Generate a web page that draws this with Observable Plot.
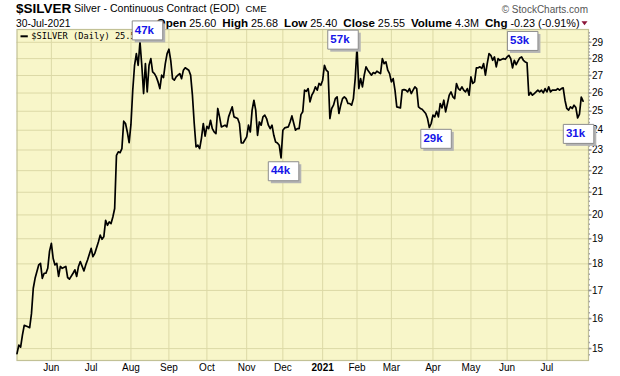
<!DOCTYPE html>
<html>
<head>
<meta charset="utf-8">
<script src="https://cdn.jsdelivr.net/npm/d3@7"></script>
<script src="https://cdn.jsdelivr.net/npm/@observablehq/plot@0.6"></script>
<style>
  html, body { margin: 0; padding: 0; background: white; }
  #chart { position: relative; width: 620px; height: 376px; }
</style>
</head>
<body>
<div id="chart"></div>
<script>
// ---- Data (trading-day index since 1-May-2020, daily close) ----
const days = [1,2,3,4,5,7,8,9,10,11,13,14,15,16,17,18,19,20,21,22,23,24,25,26,28,29,30,32,33,34,35,36,38,39,40,42,43,44,46,47,48,49,50,51,52,53,54,55,56,57,58,59,60,61,62,63,64,65,66,67,68,69,70,71,72,73,74,75,76,77,78,79,80,81,82,83,84,85,86,87,88,89,90,91,92,93,94,96,97,98,99,100,101,102,
103,104,105,106,107,108,109,110,111,112,113,114,116,117,118,119,120,121,123,124,125,126,128,129,130,131,132,133,134,135,136,137,138,139,140,141,142,143,144,145,146,147,148,149,151,152,153,155,156,157,158,159,160,161,162,163,164,165,166,167,168,169,170,171,172,173,174,175,176,177,178,179,180,181,182,183,184,185,186,187,188,189,190,191,192,193,194,195,197,198,199,200,202,203,204,205,206,207,
208,209,210,211,213,214,215,216,217,218,219,220,221,222,223,224,225,227,228,229,230,231,232,233,234,235,236,237,238,239,240,241,242,243,244,245,246,247,248,249,250,251,252,253,254,255,256,257,258,259,260,261,262,263,264,265,266,267,268,270,271,272,273,274,275,276,277,278,279,280,281,282,283,284,285,286,287,288,289,290,291,292,293,294,295,296,297,299,300,301,302,303,304,305,306,307,308,309,310,311,312,313,314];
const closes = [14.84,15.11,15.05,15.44,15.77,15.72,15.69,16.17,17.08,17.45,17.96,18.02,17.45,17.64,17.64,17.83,18.50,18.81,18.21,17.96,18.02,17.52,17.90,17.83,17.90,17.48,17.42,17.64,17.77,17.52,17.90,18.09,17.73,17.96,18.15,18.61,18.28,18.41,18.87,19.15,18.98,19.08,19.77,19.56,19.70,19.63,19.91,20.28,22.74,22.91,22.87,23.07,24.47,24.35,23.91,23.37,24.30,26.16,27.60,28.30,27.60,29.03,27.60,25.97,27.70,26.06,27.60,28.00,27.21,27.11,26.92,26.63,26.25,27.02,26.88,27.70,28.30,28.57,27.90,26.82,26.73,26.92,27.02,27.11,26.82,27.31,27.45,27.31,27.02,25.88,24.35,23.15,23.24,23.07,
23.60,24.35,23.70,24.20,24.08,24.52,24.08,23.91,23.82,25.15,24.70,24.17,24.26,24.17,24.70,24.97,25.24,24.70,24.61,24.35,23.35,23.35,23.66,24.26,23.91,25.06,25.60,25.06,23.74,24.43,24.26,24.70,24.79,24.61,24.26,24.08,24.26,23.74,23.40,23.35,23.24,22.61,24.00,24.12,24.17,24.43,24.75,24.00,24.08,24.08,24.82,24.97,26.16,26.10,26.25,25.51,25.88,26.06,26.35,26.16,26.54,26.44,26.73,27.60,27.31,27.21,24.61,25.15,25.33,25.69,25.79,24.88,25.33,25.69,25.79,25.69,25.42,25.42,25.33,25.69,26.82,28.71,26.25,26.82,26.35,27.02,27.51,27.31,27.02,27.17,27.11,27.25,27.11,28.00,27.70,27.80,27.31,27.11,
26.63,26.82,26.16,25.24,25.18,26.16,26.19,26.16,26.06,26.25,25.97,26.16,26.35,26.25,25.24,25.15,25.11,24.88,24.61,24.14,24.35,24.79,24.70,25.00,24.70,25.42,25.18,25.60,24.97,25.42,25.88,26.06,25.79,25.69,26.54,26.25,26.16,26.35,26.16,26.06,26.25,25.88,26.92,26.54,26.63,27.45,27.45,27.51,27.41,27.70,27.02,27.70,28.30,28.20,27.90,28.10,27.51,28.00,27.90,28.00,27.96,28.10,28.20,28.00,27.45,27.90,27.64,27.85,28.04,28.10,27.90,27.80,27.75,25.88,26.03,25.88,25.97,26.06,26.16,26.06,26.16,26.01,26.25,26.06,26.35,26.06,26.16,26.16,26.25,26.16,26.25,26.29,25.60,25.15,25.06,25.24,25.15,25.33,25.20,24.64,24.85,25.78,25.55];

// month starts (trading-day index) and their labels
const monthDays = [20,42,64,85,106,128,148,170,189,208,231,252,272,294];
const monthLabels = ["Jun","Jul","Aug","Sep","Oct","Nov","Dec","2021","Feb","Mar","Apr","May","Jun","Jul"];
const yTicks = [15,16,17,18,19,20,21,22,23,24,25,26,27,28,29];

// volume annotations at swing highs / lows
const annLabels = ["47k","44k","57k","29k","53k","31k"];
const annDays = [69,147,189,229,280,311];

// header texts
const quoteLabels = ["Open","High","Low","Close","Volume","Chg"];
const quoteValues = ["25.60","25.68","25.40","25.55","4.3M","-0.23 (-0.91%)"];

// ---- layout / style ----
const annDx = [7.5, 2.5, -14, 6.7, 1.1, 0.9];
const annDy = [-11.4, 13.3, -7.3, 11.3, -16, 15.9];
const BG = "#f8f6c9", GRID = "#dcd9a6", BORDER = "#c2c196";
const FONT = "Liberation Sans, Arial, sans-serif";

const data = days.map((d, i) => ({day: d, close: closes[i]}));
const anns = annLabels.map((l, i) => ({label: l, day: annDays[i], close: closes[days.indexOf(annDays[i])]}));

const BW = 30.5, BH = 19;
const boxSym = {draw(ctx) { ctx.moveTo(-BW/2, -BH/2); ctx.lineTo(BW/2, -BH/2); ctx.lineTo(BW/2, BH/2); ctx.lineTo(-BW/2, BH/2); ctx.closePath(); }};
const tickSym = {draw(ctx) { ctx.moveTo(0, 0); ctx.lineTo(3, 0); }};
const minorSym = {draw(ctx) { ctx.moveTo(0, 0); ctx.lineTo(1.5, 0); }};
const dashSym = {draw(ctx) { ctx.moveTo(0, -1); ctx.lineTo(7.3, -1); ctx.lineTo(7.3, 1); ctx.lineTo(0, 1); ctx.closePath(); }};
const minorTicks = d3.range(14.8, 29.8, 0.2);

const annMarks = anns.flatMap((a, i) => [
  Plot.dot([a], {x: "day", y: "close", symbol: boxSym, r: 5, fill: "#b4b4b4", stroke: "none", dx: annDx[i] + 2.5, dy: annDy[i] + 2.5}),
  Plot.dot([a], {x: "day", y: "close", symbol: boxSym, r: 5, fill: "white", stroke: "#8c8c8c", strokeWidth: 1, dx: annDx[i], dy: annDy[i]}),
  Plot.text([a], {x: "day", y: "close", text: "label", textAnchor: "start", dx: annDx[i] - BW/2 + 2.6, dy: annDy[i] - 0.6,
    fill: "#1515e8", fontWeight: "bold", fontSize: 11.5, fontFamily: FONT})
]);

const svg = Plot.plot({
  width: 620, height: 376,
  marginLeft: 16.5, marginRight: 32, marginTop: 29, marginBottom: 16,
  style: {fontFamily: FONT, fontSize: "10px", background: "white", color: "black", overflow: "visible"},
  x: {type: "linear", domain: [1, 317], ticks: monthDays, tickFormat: d => monthLabels[monthDays.indexOf(d)], tickSize: 0, tickPadding: 3, label: null},
  y: {type: "log", domain: [14.62, 29.81], axis: "right", ticks: yTicks, tickFormat: d => String(d), tickSize: 0, tickPadding: 3.5, label: null},
  marks: [
    Plot.frame({fill: BG, stroke: "none"}),
    Plot.ruleY(yTicks, {stroke: GRID, strokeWidth: 1}),
    Plot.ruleX(monthDays, {stroke: GRID, strokeWidth: 1}),
    Plot.frame({stroke: BORDER, strokeWidth: 1.2}),
    Plot.dot(minorTicks, {y: d => d, frameAnchor: "right", symbol: minorSym, r: 2, stroke: "#a8a8a8", fill: "none"}),
    Plot.dot(yTicks, {y: d => d, frameAnchor: "right", symbol: tickSym, r: 2, stroke: "#909090", fill: "none"}),
    Plot.line(data, {x: "day", y: "close", stroke: "black", strokeWidth: 1.7}),
    Plot.dot(["legend"], {frameAnchor: "top-left", symbol: dashSym, r: 2, fill: "black", stroke: "none", dx: 3.5, dy: 6.8}),
    Plot.text(["$SILVER (Daily) 25.55"], {frameAnchor: "top-left", text: d => d, textAnchor: "start", lineAnchor: "middle",
      dx: 14.2, dy: 7.2, fontFamily: "DejaVu Sans Mono", fontSize: 8.7, fill: "black"}),
    ...annMarks
  ]
});
document.getElementById("chart").append(svg);

// ---- header (drawn underneath everything) ----
const s = d3.select(svg);
s.selectAll("text").filter(function() { return this.textContent === "2021"; }).attr("font-weight", "bold");
const h = s.insert("g", ":first-child")
  .attr("font-family", FONT).attr("fill", "black").attr("text-anchor", "start")
  .style("text-anchor", "start");
const t = (x, y, size, str, weight, fill, anchor) => h.append("text")
  .attr("x", x).attr("y", y).attr("font-size", size)
  .attr("font-weight", weight || "normal").attr("fill", fill || "black")
  .attr("text-anchor", anchor || "start").style("text-anchor", anchor || "start").text(str);
t(16, 13.3, 13.5, "$SILVER", "bold");
t(74, 12.4, 10.6, "Silver - Continuous Contract (EOD)");
t(245.5, 12.4, 9.5, "CME");
t(588, 12.6, 10, "\u00A9 StockCharts.com", "normal", "#555", "end");
t(16, 26.6, 10.3, "30-Jul-2021");
const q = t(579.5, 26.6, 10.8, "", "normal", "black", "end").attr("xml:space", "preserve");
quoteLabels.forEach((l, i) => {
  q.append("tspan").attr("font-weight", "bold").attr("font-size", 11.6).text(l);
  q.append("tspan").text("\u00A0" + quoteValues[i] + (i < quoteLabels.length - 1 ? "\u00A0\u00A0" : ""));
});
h.append("path").attr("d", "M581.5,21.3L587.5,21.3L584.5,25.3Z").attr("fill", "#8b1538");
</script>
</body>
</html>
